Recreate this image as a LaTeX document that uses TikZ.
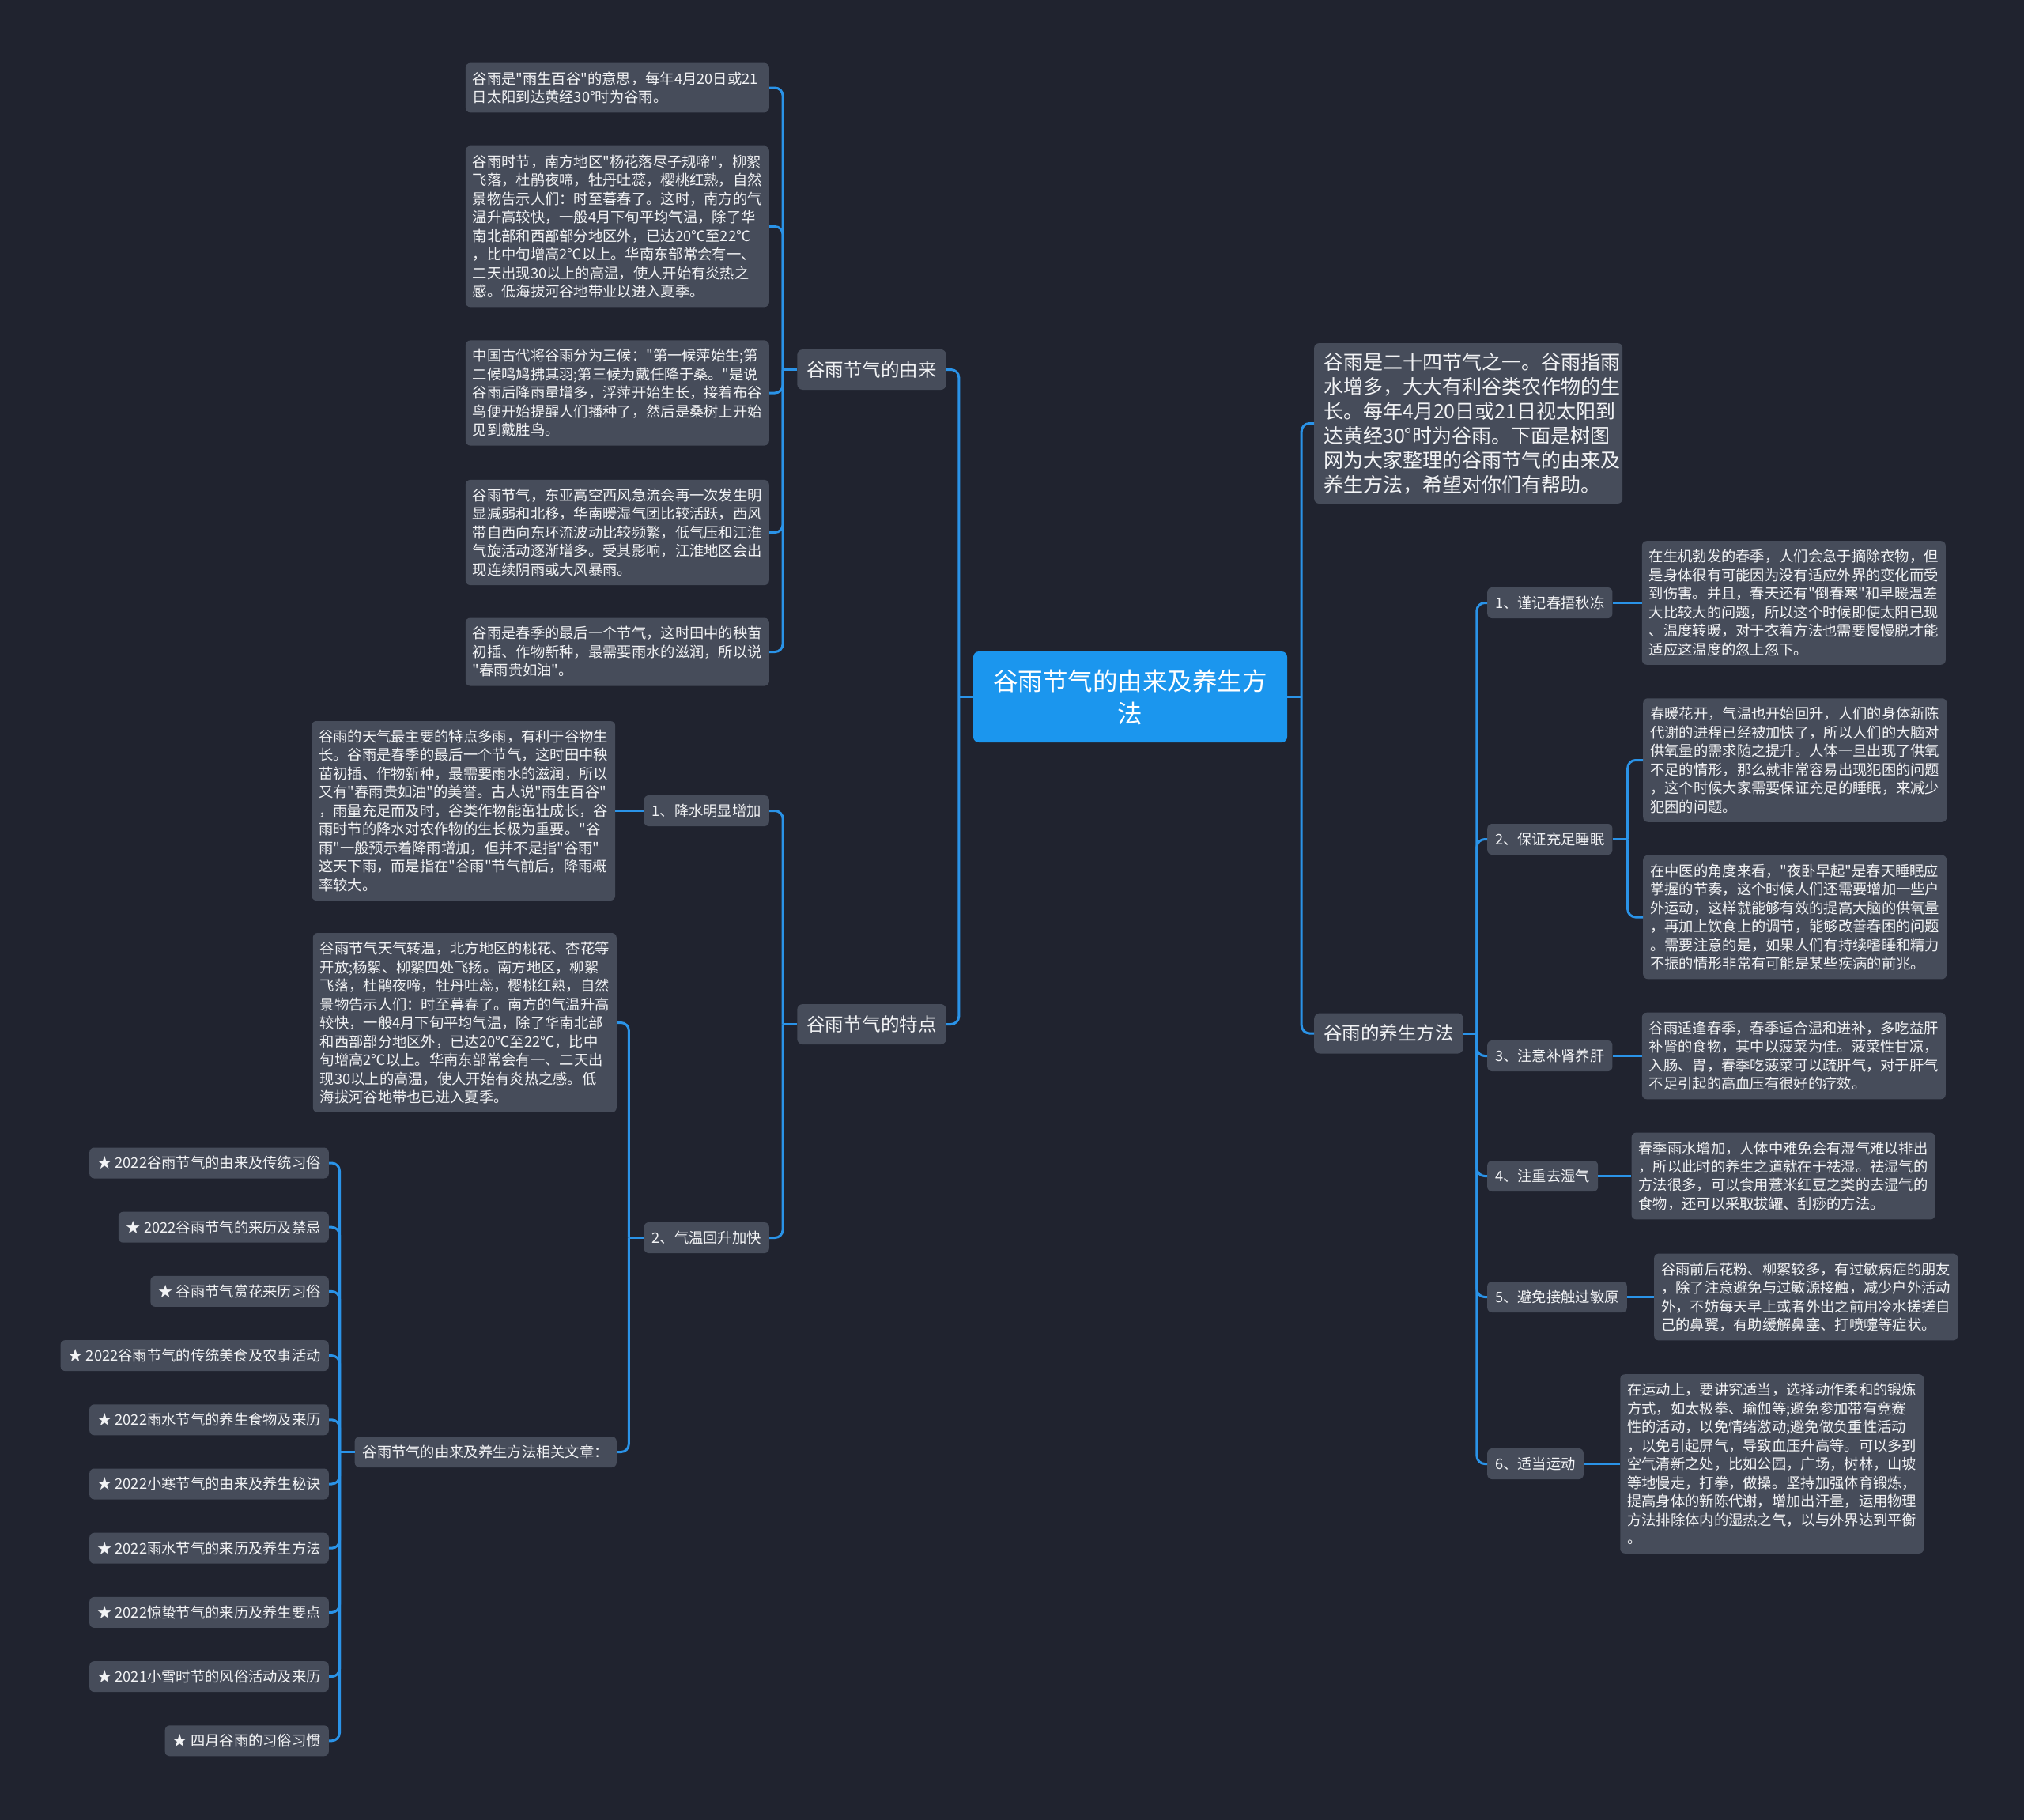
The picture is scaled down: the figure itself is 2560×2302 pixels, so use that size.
\documentclass[tikz,border=0pt]{standalone}
\usepackage{fontspec}
\setmainfont{Noto Sans CJK SC}[Ligatures=TeXOff]
\usepackage{xcolor}
\usetikzlibrary{positioning}
\definecolor{canvas}{HTML}{20232F}
\definecolor{cardbg}{HTML}{464C5A}
\definecolor{rootbg}{HTML}{1B96EE}
\definecolor{branch}{HTML}{2A93E8}
\definecolor{textlight}{HTML}{F2F3F5}

\begin{document}
\begin{tikzpicture}[
  x=1pt, y=-1pt,
  card/.style={
    fill=cardbg, rounded corners=6pt, text=textlight,
    font=\fontsize{18.3}{23.5}\selectfont, inner xsep=9pt, inner ysep=11pt,
    text width=366pt, align=left
  },
  tag/.style={
    fill=cardbg, rounded corners=6pt, text=textlight,
    font=\fontsize{18.3}{23.5}\selectfont, inner xsep=10pt, inner ysep=0pt,
    minimum height=39pt
  },
  topic/.style={
    fill=cardbg, rounded corners=7pt, text=textlight,
    font=\fontsize{23.5}{30}\selectfont, inner xsep=12pt, inner ysep=0pt,
    minimum height=51pt
  },
  link/.style={draw=branch, line width=3pt, rounded corners=10pt}
]
  \fill[canvas] (0,0) rectangle (2560,2302);
  \useasboundingbox (0,0) rectangle (2560,2302);

  \node[fill=rootbg, rounded corners=7pt, text=white, align=center,
    font=\fontsize{31.5}{41}\selectfont, minimum width=397pt, minimum height=115pt]
    (root) at (1429.5,881.5) {谷雨节气的由来及养生方\\法};

  \node[topic, anchor=east] (origin) at (1197,467.5) {谷雨节气的由来};
  \node[topic, anchor=east] (feature) at (1197,1295.5) {谷雨节气的特点};
  \node[card, anchor=west, font=\fontsize{25}{31}\selectfont, inner xsep=12pt, inner ysep=12pt]
    (intro) at (1662,535.5) {谷雨是二十四节气之一。谷雨指雨\\水增多，大大有利谷类农作物的生\\长。每年4月20日或21日视太阳到\\达黄经30°时为谷雨。下面是树图\\网为大家整理的谷雨节气的由来及\\养生方法，希望对你们有帮助。};
  \node[topic, anchor=west] (health) at (1662,1307) {谷雨的养生方法};

  \node[card, anchor=east] (origin1) at (973,111) {谷雨是"雨生百谷"的意思，每年4月20日或21\\日太阳到达黄经30°时为谷雨。};
  \node[card, anchor=east] (origin2) at (973,286.5) {谷雨时节，南方地区"杨花落尽子规啼"，柳絮\\飞落，杜鹃夜啼，牡丹吐蕊，樱桃红熟，自然\\景物告示人们：时至暮春了。这时，南方的气\\温升高较快，一般4月下旬平均气温，除了华\\南北部和西部部分地区外，已达20℃至22℃\\，比中旬增高2℃以上。华南东部常会有一、\\二天出现30以上的高温，使人开始有炎热之\\感。低海拔河谷地带业以进入夏季。};
  \node[card, anchor=east] (origin3) at (973,497) {中国古代将谷雨分为三候："第一候萍始生;第\\二候鸣鸠拂其羽;第三候为戴任降于桑。"是说\\谷雨后降雨量增多，浮萍开始生长，接着布谷\\鸟便开始提醒人们播种了，然后是桑树上开始\\见到戴胜鸟。};
  \node[card, anchor=east] (origin4) at (973,673.5) {谷雨节气，东亚高空西风急流会再一次发生明\\显减弱和北移，华南暖湿气团比较活跃，西风\\带自西向东环流波动比较频繁，低气压和江淮\\气旋活动逐渐增多。受其影响，江淮地区会出\\现连续阴雨或大风暴雨。};
  \node[card, anchor=east] (origin5) at (973,824.5) {谷雨是春季的最后一个节气，这时田中的秧苗\\初插、作物新种，最需要雨水的滋润，所以说\\"春雨贵如油"。};

  \node[tag, anchor=east] (featRain) at (973,1025.5) {1、降水明显增加};
  \node[card, left=36pt of featRain] (rainTxt) {谷雨的天气最主要的特点多雨，有利于谷物生\\长。谷雨是春季的最后一个节气，这时田中秧\\苗初插、作物新种，最需要雨水的滋润，所以\\又有"春雨贵如油"的美誉。古人说"雨生百谷"\\，雨量充足而及时，谷类作物能茁壮成长，谷\\雨时节的降水对农作物的生长极为重要。"谷\\雨"一般预示着降雨增加，但并不是指"谷雨"\\这天下雨，而是指在"谷雨"节气前后，降雨概\\率较大。};
  \node[tag, anchor=east] (featWarm) at (973,1565.5) {2、气温回升加快};
  \node[card, anchor=east] (warmTxt) at (780,1293.5) {谷雨节气天气转温，北方地区的桃花、杏花等\\开放;杨絮、柳絮四处飞扬。南方地区，柳絮\\飞落，杜鹃夜啼，牡丹吐蕊，樱桃红熟，自然\\景物告示人们：时至暮春了。南方的气温升高\\较快，一般4月下旬平均气温，除了华南北部\\和西部部分地区外，已达20℃至22℃，比中\\旬增高2℃以上。华南东部常会有一、二天出\\现30以上的高温，使人开始有炎热之感。低\\海拔河谷地带也已进入夏季。};
  \node[tag, anchor=east] (related) at (780,1836.5) {谷雨节气的由来及养生方法相关文章：};

  \foreach \t [count=\i] in {2022谷雨节气的由来及传统习俗, 2022谷雨节气的来历及禁忌,
      谷雨节气赏花来历习俗, 2022谷雨节气的传统美食及农事活动, 2022雨水节气的养生食物及来历,
      2022小寒节气的由来及养生秘诀, 2022雨水节气的来历及养生方法, 2022惊蛰节气的来历及养生要点,
      2021小雪时节的风俗活动及来历, 四月谷雨的习俗习惯}
    \node[tag, anchor=east] (star\i) at (416,1389.8+81.2*\i) {★ \t};

  \node[tag, anchor=west] (tip1) at (1881,762.5) {1、谨记春捂秋冻};
  \node[tag, anchor=west] (tip2) at (1881,1061.5) {2、保证充足睡眠};
  \node[tag, anchor=west] (tip3) at (1881,1335.5) {3、注意补肾养肝};
  \node[tag, anchor=west] (tip4) at (1881,1487.5) {4、注重去湿气};
  \node[tag, anchor=west] (tip5) at (1881,1640.5) {5、避免接触过敏原};
  \node[tag, anchor=west] (tip6) at (1881,1851.5) {6、适当运动};

  \node[card, right=37pt of tip1] (tipTxt1) {在生机勃发的春季，人们会急于摘除衣物，但\\是身体很有可能因为没有适应外界的变化而受\\到伤害。并且，春天还有"倒春寒"和早暖温差\\大比较大的问题，所以这个时候即使太阳已现\\、温度转暖，对于衣着方法也需要慢慢脱才能\\适应这温度的忽上忽下。};
  \node[card, anchor=west] (tipTxt2a) at (2078,961.5) {春暖花开，气温也开始回升，人们的身体新陈\\代谢的进程已经被加快了，所以人们的大脑对\\供氧量的需求随之提升。人体一旦出现了供氧\\不足的情形，那么就非常容易出现犯困的问题\\，这个时候大家需要保证充足的睡眠，来减少\\犯困的问题。};
  \node[card, anchor=west] (tipTxt2b) at (2078,1160) {在中医的角度来看，"夜卧早起"是春天睡眠应\\掌握的节奏，这个时候人们还需要增加一些户\\外运动，这样就能够有效的提高大脑的供氧量\\，再加上饮食上的调节，能够改善春困的问题\\。需要注意的是，如果人们有持续嗜睡和精力\\不振的情形非常有可能是某些疾病的前兆。};
  \node[card, right=37pt of tip3] (tipTxt3) {谷雨适逢春季，春季适合温和进补，多吃益肝\\补肾的食物，其中以菠菜为佳。菠菜性甘凉，\\入肠、胃，春季吃菠菜可以疏肝气，对于肝气\\不足引起的高血压有很好的疗效。};
  \node[card, right=42pt of tip4] (tipTxt4) {春季雨水增加，人体中难免会有湿气难以排出\\，所以此时的养生之道就在于祛湿。祛湿气的\\方法很多，可以食用薏米红豆之类的去湿气的\\食物，还可以采取拔罐、刮痧的方法。};
  \node[card, right=34pt of tip5] (tipTxt5) {谷雨前后花粉、柳絮较多，有过敏病症的朋友\\，除了注意避免与过敏源接触，减少户外活动\\外，不妨每天早上或者外出之前用冷水搓搓自\\己的鼻翼，有助缓解鼻塞、打喷嚏等症状。};
  \node[card, right=46pt of tip6] (tipTxt6) {在运动上，要讲究适当，选择动作柔和的锻炼\\方式，如太极拳、瑜伽等;避免参加带有竞赛\\性的活动，以免情绪激动;避免做负重性活动\\，以免引起屏气，导致血压升高等。可以多到\\空气清新之处，比如公园，广场，树林，山坡\\等地慢走，打拳，做操。坚持加强体育锻炼，\\提高身体的新陈代谢，增加出汗量，运用物理\\方法排除体内的湿热之气，以与外界达到平衡\\。};

  \coordinate (rootL) at ([xshift=-18pt]root.west);
  \coordinate (rootR) at ([xshift=18pt]root.east);
  \coordinate (originJ) at ([xshift=-18pt]origin.west);
  \coordinate (featureJ) at ([xshift=-18pt]feature.west);
  \coordinate (warmJ) at ([xshift=-19pt]featWarm.west);
  \coordinate (relJ) at ([xshift=-19pt]related.west);
  \coordinate (healthJ) at ([xshift=17pt]health.east);
  \coordinate (tip2J) at ([xshift=19pt]tip2.east);

  \draw[link] (root.west) -- (rootL);
  \draw[link] (origin.east) -| (rootL);
  \draw[link] (feature.east) -| (rootL);
  \draw[link] (root.east) -- (rootR);
  \draw[link] (intro.west) -| (rootR);
  \draw[link] (health.west) -| (rootR);

  \draw[link] (origin.west) -- (originJ);
  \foreach \i in {1,...,5}
    \draw[link] (origin\i.east) -| (originJ);

  \draw[link] (feature.west) -- (featureJ);
  \draw[link] (featRain.east) -| (featureJ);
  \draw[link] (featWarm.east) -| (featureJ);
  \draw[link] (featRain.west) -- (rainTxt.east);
  \draw[link] (featWarm.west) -- (warmJ);
  \draw[link] (warmTxt.east) -| (warmJ);
  \draw[link] (related.east) -| (warmJ);
  \draw[link] (related.west) -- (relJ);
  \foreach \i in {1,...,10}
    \draw[link] (star\i.east) -| (relJ);

  \draw[link] (health.east) -- (healthJ);
  \foreach \i in {1,...,6}
    \draw[link] (tip\i.west) -| (healthJ);
  \draw[link] (tip1.east) -- (tipTxt1.west);
  \draw[link] (tip2.east) -- (tip2J);
  \draw[link] (tipTxt2a.west) -| (tip2J);
  \draw[link] (tipTxt2b.west) -| (tip2J);
  \draw[link] (tip3.east) -- (tipTxt3.west);
  \draw[link] (tip4.east) -- (tipTxt4.west);
  \draw[link] (tip5.east) -- (tipTxt5.west);
  \draw[link] (tip6.east) -- (tipTxt6.west);
\end{tikzpicture}
\end{document}
